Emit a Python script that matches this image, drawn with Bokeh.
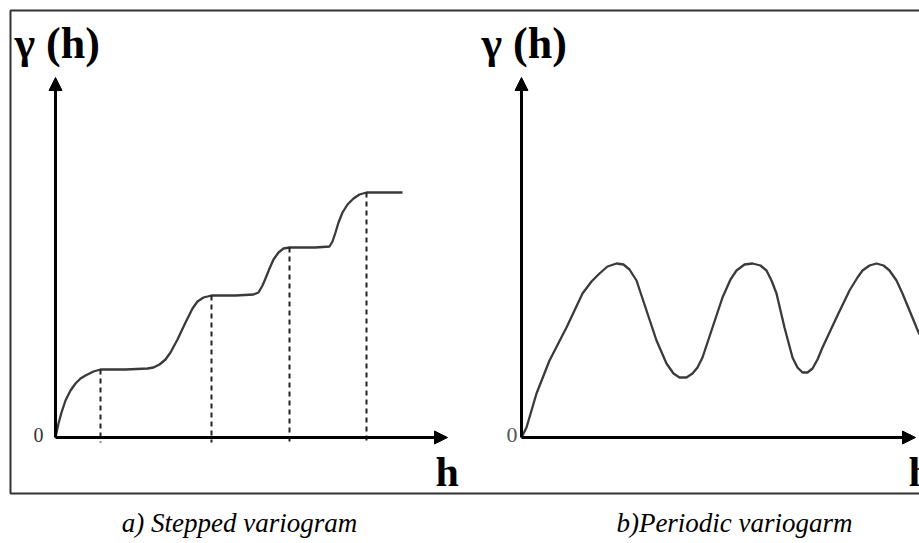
from bokeh.plotting import figure
from bokeh.models import Range1d, Arrow, NormalHead, Label
from bokeh.embed import file_html
from bokeh.resources import INLINE

# ---- data (h in arbitrary lag units, gamma in arbitrary variance units) ----
step_h = [0.00, 0.03, 0.06, 0.10, 0.15, 0.20, 0.25, 0.30, 0.38, 0.45, 0.70, 0.92,
          0.98, 1.04, 1.10, 1.15, 1.22, 1.30, 1.37, 1.42, 1.48, 1.56, 1.80, 1.98,
          2.03, 2.07, 2.10, 2.14, 2.18, 2.23, 2.28, 2.34, 2.60, 2.74, 2.77, 2.80,
          2.83, 2.87, 2.92, 2.98, 3.04, 3.11, 3.47]
step_g = [0.00, 0.14, 0.25, 0.37, 0.47, 0.54, 0.59, 0.62, 0.66, 0.68, 0.68, 0.69,
          0.70, 0.73, 0.78, 0.85, 0.98, 1.15, 1.29, 1.36, 1.40, 1.42, 1.42, 1.43,
          1.45, 1.52, 1.59, 1.69, 1.78, 1.85, 1.89, 1.90, 1.90, 1.91, 1.96, 2.05,
          2.15, 2.25, 2.33, 2.39, 2.43, 2.45, 2.45]

# dashed markers at the start of each plateau
range_h = [0.45, 1.56, 2.34, 3.11]
range_g = [0.68, 1.42, 1.90, 2.45]

per_h = [0.00, 0.05, 0.15, 0.28, 0.45, 0.61, 0.70, 0.78, 0.86, 0.95, 1.02, 1.08,
         1.15, 1.25, 1.35, 1.45, 1.52, 1.58, 1.65, 1.71, 1.76, 1.81, 1.91, 2.01,
         2.09, 2.15, 2.23, 2.31, 2.39, 2.45, 2.50, 2.55, 2.63, 2.71, 2.76, 2.81,
         2.86, 2.91, 2.96, 3.01, 3.15, 3.28, 3.36, 3.41, 3.48, 3.55, 3.62, 3.68,
         3.75, 3.81, 3.95, 3.98]
per_g = [0.00, 0.10, 0.44, 0.77, 1.10, 1.44, 1.56, 1.64, 1.71, 1.74, 1.73, 1.68,
         1.57, 1.27, 0.97, 0.74, 0.64, 0.60, 0.60, 0.64, 0.70, 0.80, 1.10, 1.40,
         1.58, 1.67, 1.73, 1.74, 1.72, 1.67, 1.57, 1.44, 1.10, 0.80, 0.70, 0.65,
         0.65, 0.69, 0.78, 0.90, 1.20, 1.47, 1.60, 1.67, 1.72, 1.74, 1.72, 1.67,
         1.57, 1.44, 1.10, 1.03]

y_label = "γ (h)"
x_label = "h"
origin_label = "0"
caption_a = "a) Stepped variogram"
caption_b = "b)Periodic variogarm"

# ---- figure ----
p = figure(width=919, height=543,
           x_range=Range1d(-0.55, 8.64), y_range=Range1d(-1.06, 4.37),
           output_backend="svg", toolbar_location=None,
           x_axis_location=None, y_axis_location=None, min_border=0)
p.extra_x_ranges = {"b": Range1d(-5.21, 3.98)}
p.grid.visible = False
p.outline_line_color = None
p.background_fill_color = "white"
p.border_fill_color = "white"

# outer frame
p.quad(left=[-0.45], right=[9.5], top=[4.27], bottom=[-0.56],
       fill_color=None, line_color="#333333", line_width=2)

serif = "Liberation Serif"

def axes(rng, x_end):
    for (x0, y0, x1, y1) in [(0, 0, 0, 3.60), (0, 0, x_end, 0)]:
        p.add_layout(Arrow(x_start=x0, y_start=y0, x_end=x1, y_end=y1,
                           x_range_name=rng, line_width=3, line_color="black",
                           end=NormalHead(size=13, fill_color="black",
                                          line_color="black", line_width=1)))

axes("default", 3.92)
axes("b", 3.94)

# stepped curve
p.line(step_h, step_g, line_color="#3a3a3a", line_width=2.3)
p.segment(x0=range_h, y0=range_g, x1=range_h, y1=[-0.05] * len(range_h),
          line_color="#222222", line_width=2, line_dash="5 4")

# periodic curve
p.line(per_h, per_g, line_color="#3a3a3a", line_width=2.3, x_range_name="b")

def lab(text, x, y, rng, size, style="normal", align="left", color="black"):
    p.add_layout(Label(x=x, y=y, text=text, x_range_name=rng,
                       text_font=serif, text_font_size=size,
                       text_font_style=style, text_align=align,
                       text_baseline="alphabetic", text_color=color))

lab(y_label, -0.41, 3.94, "default", "44px", "bold")
lab(y_label, -0.40, 3.94, "b", "44px", "bold")
lab(origin_label, -0.12, 0.03, "default", "20px", align="right", color="#333333")
lab(origin_label, -0.04, 0.03, "b", "22px", align="right", color="#555555")
lab(x_label, 3.80, -0.34, "default", "42px", "bold")
lab(x_label, 3.87, -0.34, "b", "42px", "bold")
lab(caption_a, 1.84, -0.85, "default", "27px", "italic", align="center")
lab(caption_b, 2.13, -0.85, "b", "27px", "italic", align="center")

open("out.html", "w").write(file_html(p, INLINE))
